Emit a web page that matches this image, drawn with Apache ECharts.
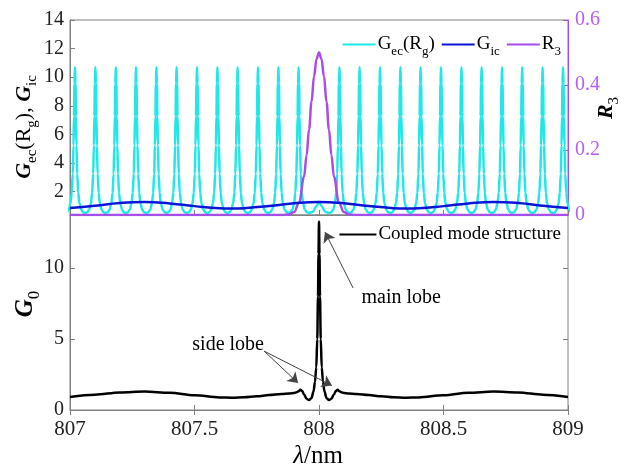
<!DOCTYPE html>
<html><head><meta charset="utf-8">
<script src="https://cdn.jsdelivr.net/npm/echarts@6/dist/echarts.min.js"></script>
<style>html,body{margin:0;padding:0;background:#fff}#c{width:627px;height:469px}</style>
</head><body><div id="c"></div>
<script>
// ---- tick labels ----
const xTicks = [807, 807.5, 808, 808.5, 809];
const topLeftTicks = [2, 4, 6, 8, 10, 12, 14];
const topRightTicks = [0, 0.2, 0.4, 0.6];
const bottomTicks = [0, 5, 10];

// ---- G_ec(R_g): comb of resonance peaks (centres and one peak profile) ----
const cyanPeakCenters = [807.020, 807.102, 807.184, 807.265, 807.347, 807.428, 807.510, 807.592, 807.673, 807.755, 807.837, 807.918,
                         808.082, 808.163, 808.245, 808.327, 808.408, 808.490, 808.572, 808.653, 808.735, 808.816, 808.898, 808.980];
const cyanPeakOffsets = [0, 0.002, 0.004, 0.006, 0.009, 0.013, 0.018, 0.025, 0.033];
const cyanPeakValues  = [10.7, 9.57, 7.28, 5.23, 3.24, 1.91, 1.17, 0.74, 0.56];
const cyanValleyValue = 0.51;
const cyanMidX = [807.96, 807.975, 807.99, 808.0, 808.01, 808.025, 808.04];
const cyanMidY = [0.51, 0.6, 1.0, 1.3, 1.0, 0.6, 0.51];

// ---- G_ic ----
const gicX = [807.0, 807.1, 807.2, 807.3, 807.4, 807.5, 807.6, 807.65, 807.7, 807.8, 807.9, 808.0, 808.1, 808.2, 808.3, 808.35, 808.4, 808.5, 808.6, 808.7, 808.8, 808.9, 809.0];
const gicY = [0.86, 1.02, 1.21, 1.28, 1.18, 0.99, 0.84, 0.82, 0.85, 1.0, 1.19, 1.28, 1.19, 1.0, 0.85, 0.82, 0.84, 0.99, 1.18, 1.28, 1.21, 1.02, 0.86];

// ---- R_3 ----
const r3X = [807.0, 807.85, 807.88, 807.9, 807.92, 807.94, 807.95, 807.96, 807.97, 807.98, 807.99, 808.0, 808.01, 808.02, 808.03, 808.04, 808.05, 808.06, 808.08, 808.1, 808.12, 808.15, 809.0];
const r3Y = [0, 0, 0.0015, 0.009, 0.038, 0.118, 0.183, 0.263, 0.348, 0.426, 0.48, 0.5, 0.48, 0.426, 0.348, 0.263, 0.183, 0.118, 0.038, 0.009, 0.0015, 0, 0];

// ---- G_0 coupled mode structure ----
const g0X = [807.0, 807.1, 807.2, 807.3, 807.4, 807.5, 807.6, 807.65, 807.7, 807.75, 807.8, 807.85, 807.88, 807.9, 807.91, 807.918, 807.925, 807.932, 807.94, 807.95, 807.96, 807.97, 807.978, 807.984, 807.989, 807.993, 807.996, 807.998,
             808.0, 808.002, 808.004, 808.007, 808.011, 808.016, 808.022, 808.03, 808.04, 808.05, 808.06, 808.068, 808.075, 808.082, 808.09, 808.1, 808.12, 808.15, 808.2, 808.25, 808.3, 808.35, 808.4, 808.5, 808.6, 808.7, 808.8, 808.9, 809.0];
const g0Y = [0.92, 1.08, 1.24, 1.3, 1.22, 1.04, 0.89, 0.87, 0.9, 0.97, 1.05, 1.12, 1.16, 1.2, 1.25, 1.32, 1.43, 1.35, 1.1, 0.8, 0.7, 0.85, 1.3, 2.0, 3.0, 5.0, 8.0, 11.0,
             13.3, 11.0, 8.0, 5.0, 3.0, 2.0, 1.3, 0.85, 0.7, 0.8, 1.1, 1.35, 1.43, 1.32, 1.25, 1.2, 1.16, 1.12, 1.05, 0.97, 0.9, 0.87, 0.89, 1.04, 1.22, 1.3, 1.24, 1.08, 0.92];

// ---- build point lists ----
const cyanPts = [];
cyanPeakCenters.forEach((c, i) => {
  for (let k = cyanPeakOffsets.length - 1; k > 0; k--) cyanPts.push([c - cyanPeakOffsets[k], cyanPeakValues[k]]);
  cyanPts.push([c, cyanPeakValues[0]]);
  for (let k = 1; k < cyanPeakOffsets.length; k++) cyanPts.push([c + cyanPeakOffsets[k], cyanPeakValues[k]]);
  const n = cyanPeakCenters[i + 1];
  if (n !== undefined && n - c < 0.1) cyanPts.push([(c + n) / 2, cyanValleyValue]);
});
cyanPts.push([cyanPeakCenters[0] - 0.041, cyanValleyValue]);
cyanPts.push([cyanPeakCenters[cyanPeakCenters.length - 1] + 0.041, cyanValleyValue]);
cyanMidX.forEach((x, i) => cyanPts.push([x, cyanMidY[i]]));
cyanPts.sort((a, b) => a[0] - b[0]);

const zip = (xs, ys) => xs.map((x, i) => [x, ys[i]]);

const FONT = 'Liberation Serif';
const GREY = '#808080';
const PURPLE = '#a84ee8';
const PURPLE_TXT = '#b660f2';

const titleRich = (size, sub) => ({
  b: {fontFamily: FONT, fontSize: size, fontWeight: 'bold', fontStyle: 'italic', color: '#000', lineHeight: size + 4},
  n: {fontFamily: FONT, fontSize: size, color: '#000', lineHeight: size + 4},
  s: {fontFamily: FONT, fontSize: sub, color: '#000', lineHeight: sub, verticalAlign: 'bottom', padding: [0, 0, -3, 0]}
});

const tickCommon = {inside: true, length: 5, lineStyle: {color: GREY, width: 1}};
const lineCommon = {show: true, lineStyle: {color: GREY, width: 1}};
const labelCommon = {fontFamily: FONT, fontSize: 20, color: '#222'};

const chart = echarts.init(document.getElementById('c'), null, {renderer: 'canvas'});
chart.setOption({
  animation: false,
  backgroundColor: '#fff',
  grid: [
    {left: 70, top: 20, width: 498, height: 195, show: true, borderColor: GREY, borderWidth: 1, outerBoundsMode: 'none', containLabel: false},
    {left: 70, top: 215, width: 498, height: 195, show: true, borderColor: GREY, borderWidth: 1, outerBoundsMode: 'none', containLabel: false}
  ],
  legend: [
    {
      data: ['Gec', 'Gic', 'R3'], top: 30, right: 61, itemWidth: 33, itemHeight: 12, itemGap: 7,
      icon: 'path://M0,5L33,5L33,7L0,7Z',
      formatter: n => ({Gec: '{n|G}{s|ec}{n|(R}{s|g}{n|)}', Gic: '{n|G}{s|ic}', R3: '{n|R}{s|3}'})[n],
      textStyle: {fontFamily: FONT, fontSize: 19, color: '#000', padding: [0, 0, 0, -3],
        rich: {n: {fontFamily: FONT, fontSize: 19, color: '#000', lineHeight: 22},
               s: {fontFamily: FONT, fontSize: 13, color: '#000', lineHeight: 13, verticalAlign: 'bottom', padding: [0, 0, -3, 0]}}}
    },
    {
      data: ['Coupled mode structure'], top: 220, right: 61, itemWidth: 37, itemHeight: 12,
      icon: 'path://M0,5L37,5L37,7L0,7Z',
      textStyle: {fontFamily: FONT, fontSize: 19, color: '#000', padding: [0, 0, 0, -3]}
    }
  ],
  xAxis: [
    {type: 'value', gridIndex: 0, min: 807, max: 809, interval: 0.5, axisLine: lineCommon, axisTick: tickCommon,
     axisLabel: {show: false}, splitLine: {show: false}},
    {type: 'value', gridIndex: 1, min: 807, max: 809, interval: 0.5, axisLine: lineCommon, axisTick: tickCommon,
     axisLabel: Object.assign({}, labelCommon, {margin: 9, fontSize: 21, customValues: xTicks}), splitLine: {show: false}},
    {type: 'value', gridIndex: 1, min: 807, max: 809, interval: 0.5, position: 'top', axisLine: {show: false},
     axisTick: tickCommon, axisLabel: {show: false}, splitLine: {show: false}}
  ],
  yAxis: [
    {type: 'value', gridIndex: 0, min: 0.37, max: 14, axisLine: lineCommon,
     axisTick: Object.assign({customValues: topLeftTicks}, tickCommon),
     axisLabel: Object.assign({margin: 6, customValues: topLeftTicks}, labelCommon), splitLine: {show: false}},
    {type: 'value', gridIndex: 0, min: 0, max: 0.6, interval: 0.2, position: 'right',
     axisLine: {show: true, lineStyle: {color: PURPLE, width: 1}},
     axisTick: {inside: true, length: 5, lineStyle: {color: PURPLE}},
     axisLabel: {margin: 7, fontFamily: FONT, fontSize: 20, color: PURPLE_TXT, customValues: topRightTicks,
                 formatter: v => (v === 0 ? '0' : v.toFixed(1))},
     splitLine: {show: false}},
    {type: 'value', gridIndex: 1, min: 0, max: 13.75, axisLine: lineCommon,
     axisTick: Object.assign({customValues: bottomTicks}, tickCommon),
     axisLabel: Object.assign({margin: 6, customValues: bottomTicks}, labelCommon), splitLine: {show: false}},
    {type: 'value', gridIndex: 1, min: 0, max: 13.75, position: 'right', axisLine: {show: false},
     axisTick: Object.assign({customValues: bottomTicks}, tickCommon), axisLabel: {show: false}, splitLine: {show: false}}
  ],
  graphic: [
    {type: 'text', x: 24, y: 127, rotation: Math.PI / 2, silent: true,
     style: {text: '{b|G}{s|ec}{n|(R}{s|g}{n|), }{b|G}{s|ic}', rich: titleRich(22, 15), align: 'center', verticalAlign: 'middle'}},
    {type: 'text', x: 606, y: 108, rotation: Math.PI / 2, silent: true,
     style: {text: '{b|R}{s|3}', rich: titleRich(22, 15), align: 'center', verticalAlign: 'middle'}},
    {type: 'text', x: 26, y: 304, rotation: Math.PI / 2, silent: true,
     style: {text: '{b|G}{s|0}', rich: titleRich(25, 17), align: 'center', verticalAlign: 'middle'}},
    {type: 'text', x: 318, y: 456, silent: true,
     style: {text: '{i|λ}{n|/nm}', align: 'center', verticalAlign: 'middle',
       rich: {i: {fontFamily: FONT, fontSize: 25, fontStyle: 'italic', color: '#222'}, n: {fontFamily: FONT, fontSize: 25, color: '#222'}}}}
  ],
  series: [
    {name: 'Gec', type: 'line', xAxisIndex: 0, yAxisIndex: 0, data: cyanPts, symbol: 'none', smooth: 0.4, smoothMonotone: 'x',
     lineStyle: {color: '#1ee8e8', width: 2.5}, itemStyle: {color: '#1ee8e8'}, z: 2},
    {name: 'R3', type: 'line', xAxisIndex: 0, yAxisIndex: 1, data: zip(r3X, r3Y), symbol: 'none', smooth: 0.4, smoothMonotone: 'x',
     lineStyle: {color: PURPLE, width: 2.5}, itemStyle: {color: PURPLE}, z: 3},
    {name: 'Gic', type: 'line', xAxisIndex: 0, yAxisIndex: 0, data: zip(gicX, gicY), symbol: 'none', smooth: 0.5,
     lineStyle: {color: '#0a14d6', width: 2.5}, itemStyle: {color: '#0a14d6'}, z: 4},
    {name: 'Coupled mode structure', type: 'line', xAxisIndex: 1, yAxisIndex: 2, data: zip(g0X, g0Y), symbol: 'none',
     smooth: 0.35, smoothMonotone: 'x', lineStyle: {color: '#000', width: 2.5}, itemStyle: {color: '#000'}, z: 4,
     markLine: {silent: true, symbol: ['none', 'arrow'], symbolSize: 10, animation: false,
       lineStyle: {color: '#444', width: 1, type: 'solid'}, label: {show: false}, emphasis: {disabled: true},
       data: [
         [{coord: [808.137, 8.6]}, {coord: [808.024, 12.55]}],
         [{coord: [807.78, 4.15]}, {coord: [807.916, 1.9]}],
         [{coord: [807.78, 4.15]}, {coord: [808.052, 1.72]}]
       ]},
     markPoint: {silent: true, symbol: 'circle', symbolSize: 0, animation: false,
       label: {show: true, formatter: '{b}', position: 'inside', fontFamily: FONT, fontSize: 20, color: '#000'},
       data: [
         {name: 'main lobe', coord: [808.33, 7.95]},
         {name: 'side lobe', coord: [807.635, 4.6]}
       ]}}
  ]
});
</script></body></html>
